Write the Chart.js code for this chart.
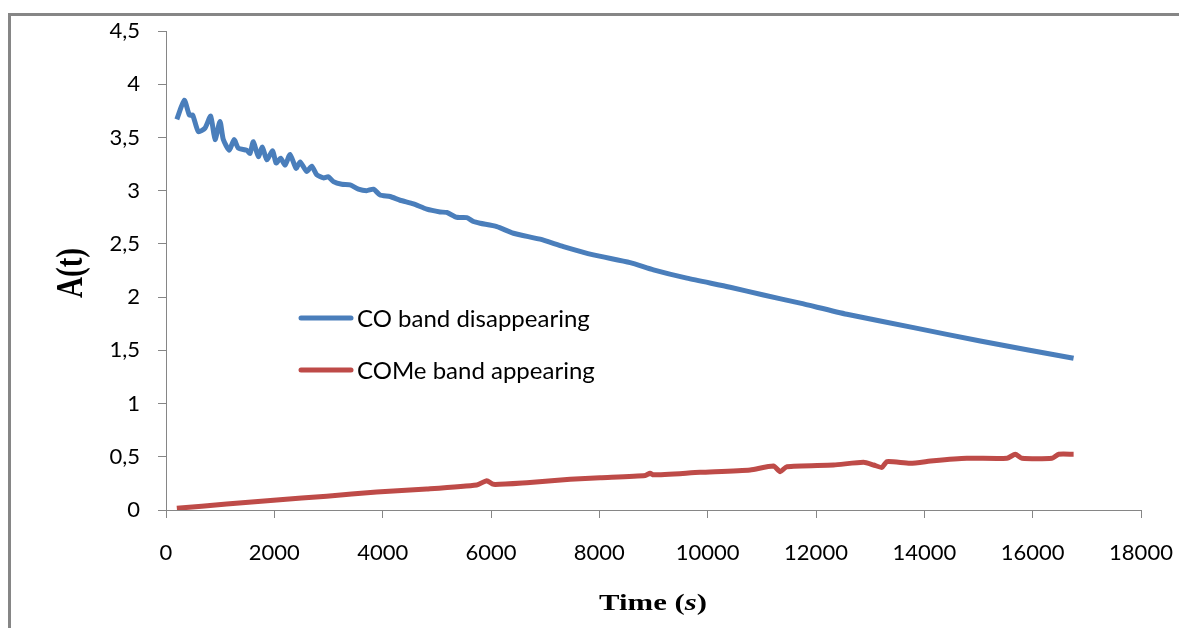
<!DOCTYPE html>
<html lang="en">
<head>
    <meta charset="UTF-8">
    <title>A(t) vs Time</title>
    <script src="https://cdn.jsdelivr.net/npm/chart.js"></script>
    <style>
        body { margin: 0; background: #fff; }
        .marco {
            position: absolute; left: 8px; top: 13px; width: 1300px; height: 700px;
            border-left: 3px solid #868686; border-top: 3px solid #868686;
        }
        canvas { position: absolute; left: 0; top: 0; }
    </style>
</head>
<body>
    <div class="marco"></div>
    <canvas id="grafico" width="1179" height="628"></canvas>

    <script>
        // Datos
        const tiempoCO = [200, 338, 431, 493, 597, 720, 825, 905, 997, 1058, 1169, 1256, 1335, 1490, 1551, 1612,
            1705, 1779, 1860, 1970, 2031, 2118, 2198, 2290, 2401, 2475, 2598, 2690, 2783, 2906, 2998, 3091,
            3245, 3398, 3552, 3706, 3829, 3952, 4137, 4321, 4568, 4814, 5060, 5183, 5368, 5553, 5676, 5799,
            6107, 6414, 6907, 7337, 7891, 8569, 8999, 9616, 10416, 11031, 11708, 12570, 13801, 15032, 16755];
        const absCO = [3.67, 3.85, 3.71, 3.71, 3.555, 3.587, 3.70, 3.48, 3.65, 3.48, 3.38, 3.48, 3.40, 3.38, 3.35, 3.46,
            3.32, 3.41, 3.29, 3.375, 3.26, 3.305, 3.24, 3.34, 3.21, 3.27, 3.18, 3.23, 3.15, 3.12, 3.13, 3.085,
            3.06, 3.055, 3.014, 3.00, 3.014, 2.96, 2.945, 2.91, 2.876, 2.826, 2.80, 2.795, 2.75, 2.747, 2.71, 2.694,
            2.663, 2.60, 2.544, 2.475, 2.397, 2.324, 2.256, 2.178, 2.093, 2.02, 1.943, 1.839, 1.713, 1.588, 1.425];

        const tiempoCOMe = [200, 1120, 2044, 2967, 3890, 4814, 5737, 5922, 6045, 6661, 7461, 8014, 8850, 8938, 9000,
            9861, 10785, 11215, 11339, 11462, 12324, 12878, 13063, 13217, 13309, 13740, 14170, 14786, 15525,
            15679, 15802, 16356, 16479, 16756];
        const absCOMe = [0.016, 0.056, 0.094, 0.13, 0.17, 0.197, 0.235, 0.275, 0.241, 0.257, 0.288, 0.303, 0.325, 0.345, 0.33,
            0.354, 0.376, 0.413, 0.36, 0.407, 0.423, 0.448, 0.423, 0.40, 0.454, 0.439, 0.463, 0.486, 0.486,
            0.523, 0.486, 0.486, 0.523, 0.523];

        const nombres = ['CO band disappearing', 'COMe band appearing'];
        const colores = ['#4A7EBB', '#BE4B48'];

        const gris = '#868686';

        // Leyenda dentro del área del gráfico
        const leyenda = {
            id: 'leyenda',
            afterDraw(chart) {
                const ctx = chart.ctx;
                const a = chart.chartArea;
                ctx.save();
                ctx.font = '24px Lato';
                ctx.textBaseline = 'middle';
                nombres.forEach((n, i) => {
                    const y = a.top + 287 + i * 52;
                    ctx.strokeStyle = colores[i];
                    ctx.lineWidth = 5;
                    ctx.lineCap = 'round';
                    ctx.beginPath();
                    ctx.moveTo(a.left + 135, y);
                    ctx.lineTo(a.left + 185, y);
                    ctx.stroke();
                    ctx.fillStyle = '#000';
                    ctx.fillText(n, a.left + 191, y + 1);
                });
                ctx.restore();
            }
        };

        // Títulos de los ejes (negrita, serif, algo estirados)
        const titulos = {
            id: 'titulos',
            afterDraw(chart) {
                const ctx = chart.ctx;
                ctx.save();
                ctx.fillStyle = '#000';
                ctx.textBaseline = 'middle';

                // Eje X: "Time (s)"
                ctx.translate(653, 604);
                ctx.scale(1.28, 1);
                const f1 = 'bold 24px "Liberation Serif"';
                const f2 = 'bold italic 24px "Liberation Serif"';
                ctx.font = f1;
                const w1 = ctx.measureText('Time (').width;
                const w3 = ctx.measureText(')').width;
                ctx.font = f2;
                const w2 = ctx.measureText('s').width;
                let x = -(w1 + w2 + w3) / 2;
                ctx.textAlign = 'left';
                ctx.font = f1;
                ctx.fillText('Time (', x, 0);
                ctx.font = f2;
                ctx.fillText('s', x + w1, 0);
                ctx.font = f1;
                ctx.fillText(')', x + w1 + w2, 0);
                ctx.restore();

                // Eje Y: "A(t)"
                ctx.save();
                ctx.fillStyle = '#000';
                ctx.textBaseline = 'middle';
                ctx.textAlign = 'center';
                ctx.translate(72, 273);
                ctx.scale(1.3, 1);
                ctx.rotate(-Math.PI / 2);
                ctx.font = 'bold 29px "Liberation Serif"';
                ctx.fillText('A(t)', 0, 0);
                ctx.restore();
            }
        };

        const ctx = document.getElementById('grafico').getContext('2d');

        new Chart(ctx, {
            type: 'line',
            data: {
                datasets: [{
                    label: nombres[0],
                    data: tiempoCO.map((t, i) => ({ x: t, y: absCO[i] })),
                    borderColor: colores[0],
                    borderWidth: 5,
                    pointRadius: 0,
                    tension: 0.2
                }, {
                    label: nombres[1],
                    data: tiempoCOMe.map((t, i) => ({ x: t, y: absCOMe[i] })),
                    borderColor: colores[1],
                    borderWidth: 5,
                    pointRadius: 0,
                    tension: 0.2
                }]
            },
            options: {
                responsive: false,
                animation: false,
                layout: { padding: { top: 31, right: 38, left: 0, bottom: 0 } },
                plugins: {
                    legend: { display: false },
                    tooltip: { enabled: false }
                },
                scales: {
                    x: {
                        type: 'linear',
                        min: 0,
                        max: 18000,
                        afterFit: s => { s.height = 118; s.paddingLeft = 0; s.paddingRight = 0; },
                        grid: { drawOnChartArea: false, tickLength: 8, color: gris },
                        border: { color: gris, width: 1 },
                        ticks: {
                            stepSize: 2000,
                            padding: 22,
                            color: '#000',
                            font: { family: 'Lato', size: 22 },
                            maxRotation: 0,
                            callback: v => String(v)
                        }
                    },
                    y: {
                        min: 0,
                        max: 4.5,
                        afterFit: s => { s.width = 166; s.paddingTop = 0; s.paddingBottom = 0; },
                        grid: { drawOnChartArea: false, tickLength: 8, color: gris },
                        border: { color: gris, width: 1 },
                        ticks: {
                            stepSize: 0.5,
                            padding: 18,
                            color: '#000',
                            font: { family: 'Lato', size: 22 },
                            callback: v => v.toString().replace('.', ',')
                        }
                    }
                }
            },
            plugins: [leyenda, titulos]
        });
    </script>
</body>
</html>
